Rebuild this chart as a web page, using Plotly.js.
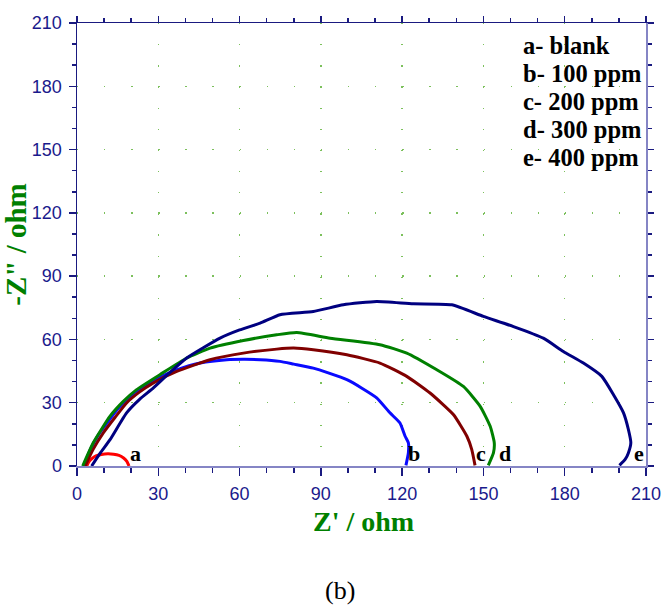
<!DOCTYPE html>
<html>
<head>
<meta charset="utf-8">
<script src="https://cdn.plot.ly/plotly-3.0.1.min.js"></script>
<style>html,body{margin:0;padding:0;background:#fff;}#chart{width:661px;height:605px;}</style>
</head>
<body>
<div id="chart"></div>
<script>
// ---- data (Z' , -Z'' in ohm) ----
const aX = [3.6, 4.3, 5.5, 7, 9, 11.4, 13.5, 15.5, 17.2, 18.4, 19.2];
const aY = [0, 1.8, 3.5, 4.8, 5.5, 5.8, 5.6, 5.0, 3.8, 2.2, 0];

const bX = [2.5, 5, 8, 12, 15, 18.3, 22, 27, 32, 36.8, 45.4, 55.3, 62, 67.6, 74.9, 80, 87.2, 93, 99.6, 105, 110.6, 115.5, 119.2, 121.1, 122.3, 122.3, 121.4];
const bY = [0, 8, 15, 22, 27, 31.5, 35.5, 39.5, 43, 45.6, 48.8, 50.4, 50.6, 50.4, 49.6, 48.3, 46.4, 44, 40.9, 37, 32.3, 25.2, 20.4, 14.1, 11, 6.2, 0.3];

const cX = [3, 6, 9.7, 14, 18.3, 23, 28.2, 36.8, 49.1, 61.4, 73.7, 80, 87.2, 99.6, 111.8, 121.7, 130.3, 138.9, 143.9, 145.7, 146.9];
const cY = [0, 8, 15.7, 23, 29.9, 35, 39.4, 44.8, 50.4, 53.5, 55.4, 55.9, 55.1, 52.7, 48.8, 42.5, 34.6, 24.4, 14.1, 7.8, 0.3];

const dX = [2.1, 6, 12.2, 17, 22, 30.6, 40.5, 49.1, 61.4, 73.7, 81.1, 93.4, 111.8, 121.7, 132.8, 142.6, 148.8, 152.5, 154, 153.7, 151.8];
const dY = [0, 11, 23.6, 30.5, 36.2, 43.3, 51.2, 55.9, 59.5, 62.2, 63.3, 60.6, 57.5, 53.5, 45.6, 37.7, 28.3, 18.8, 11, 6.2, 0.3];

const eX = [5.4, 8.5, 12.2, 18.3, 23, 28.2, 34, 40.5, 52.8, 60, 67.6, 74.9, 87.2, 98.3, 110.6, 124.1, 138.3, 150, 161.1, 172.1, 179.5, 186.9, 193.7, 198, 201.7, 203.5, 204.4, 203.5, 202.3, 200.2];
const eY = [0, 6, 12.5, 25.2, 31.5, 37, 44, 51.2, 60.6, 64.5, 67.7, 71.7, 73.2, 76.4, 78, 76.9, 76.4, 70.9, 66.1, 60.6, 54.3, 48.8, 42.5, 33.8, 25.2, 17.3, 11, 6.2, 3.1, 0.3];

const curveLetters = ['a', 'b', 'c', 'd', 'e'];
const letterX = [21.6, 124.3, 149.2, 158, 207.3];
const legendLabels = ['a- blank', 'b- 100 ppm', 'c- 200 ppm', 'd- 300 ppm', 'e- 400 ppm'];
const curveColors = ['#ff0000', '#0a0aff', '#800000', '#008000', '#000080'];
const xTitle = "Z' / ohm";
const yTitle = '-Z" / ohm';
const panelLabel = '(b)';
// ---------------------------------

const series = [[aX, aY], [bX, bY], [cX, cY], [dX, dY], [eX, eY]];
const traces = series.map((s, i) => ({
  x: s[0], y: s[1], type: 'scatter', mode: 'lines',
  line: {color: curveColors[i], width: 3, shape: 'spline', smoothing: 0.5},
  showlegend: false, hoverinfo: 'none'
}));
traces.push({x: [null], y: [null], xaxis: 'x2', yaxis: 'y2', showlegend: false, hoverinfo: 'none'});

const tickFont = {family: 'Liberation Sans, Arial, sans-serif', size: 18, color: '#1a1a8c'};
const serifBold = 'Liberation Serif, Times New Roman, serif';
const navy = '#1a1a80';
const lav = '#8585c5';
const gridCol = '#7cc05c';

const annotations = [];
curveLetters.forEach((t, i) => annotations.push({
  x: letterX[i], y: 0, xref: 'x', yref: 'y', text: '<b>' + t + '</b>',
  showarrow: false, xanchor: 'center', yanchor: 'bottom', yshift: -2,
  font: {family: serifBold, size: 22, color: '#000'}
}));
legendLabels.forEach((t, i) => annotations.push({
  x: 0.780, y: (466.5 - (45 + i * 28.2)) / 444, xref: 'paper', yref: 'paper',
  text: '<b>' + t + '</b>', showarrow: false, xanchor: 'left', yanchor: 'middle',
  font: {family: serifBold, size: 24.5, color: '#000'}
}));
annotations.push({
  x: (363 - 77) / 569, y: (466.5 - 522) / 444, xref: 'paper', yref: 'paper',
  text: '<b>' + xTitle + '</b>', showarrow: false, xanchor: 'center', yanchor: 'middle',
  font: {family: serifBold, size: 28, color: '#008000'}
});
annotations.push({
  x: (340 - 77) / 569, y: (466.5 - 591) / 444, xref: 'paper', yref: 'paper',
  text: panelLabel, showarrow: false, xanchor: 'center', yanchor: 'middle',
  font: {family: 'Liberation Serif, Times New Roman, serif', size: 26, color: '#000'}
});

const layout = {
  width: 661, height: 605,
  margin: {l: 77, r: 15, t: 22.5, b: 138.5, pad: 0},
  paper_bgcolor: '#fff', plot_bgcolor: '#fff',
  xaxis: {
    range: [0, 210], dtick: 30, tick0: 0, showgrid: true, gridcolor: gridCol, gridwidth: 1.3,
    griddash: '1.3px,19.84px', zeroline: false,
    showline: true, linecolor: lav, linewidth: 2,
    ticks: 'outside', ticklen: 8, tickwidth: 1.5, tickcolor: navy,
    minor: {dtick: 10, ticks: 'outside', ticklen: 5, tickwidth: 1.5, tickcolor: navy, showgrid: false},
    tickfont: tickFont, ticklabelstandoff: 2, ticklabeloverflow: 'allow',
    fixedrange: true
  },
  xaxis2: {
    overlaying: 'x', side: 'top', range: [0, 210], dtick: 30, tick0: 0, showgrid: false, zeroline: false,
    showline: true, linecolor: navy, linewidth: 1.5,
    ticks: 'outside', ticklen: 6, tickwidth: 1.5, tickcolor: navy,
    minor: {dtick: 10, ticks: 'outside', ticklen: 4, tickwidth: 1.5, tickcolor: navy, showgrid: false},
    showticklabels: false, fixedrange: true
  },
  yaxis: {
    range: [0, 210], dtick: 30, tick0: 0, showgrid: true, gridcolor: gridCol, gridwidth: 1.3,
    griddash: '1.3px,25.8px', zeroline: false,
    showline: true, linecolor: navy, linewidth: 1.5,
    ticks: 'outside', ticklen: 7, tickwidth: 1.5, tickcolor: navy,
    minor: {dtick: 10, ticks: 'outside', ticklen: 4, tickwidth: 1.5, tickcolor: navy, showgrid: false},
    tickfont: tickFont, ticklabelstandoff: 3, ticklabeloverflow: 'allow',
    title: {text: '<b>' + yTitle + '</b>', font: {family: serifBold, size: 29, color: '#008000'}, standoff: 3},
    fixedrange: true
  },
  yaxis2: {
    overlaying: 'y', side: 'right', range: [0, 210], dtick: 30, tick0: 0, showgrid: false, zeroline: false,
    showline: true, linecolor: lav, linewidth: 1.5,
    ticks: 'outside', ticklen: 6, tickwidth: 1.5, tickcolor: navy,
    minor: {dtick: 10, ticks: 'outside', ticklen: 4, tickwidth: 1.5, tickcolor: navy, showgrid: false},
    showticklabels: false, fixedrange: true
  },
  annotations: annotations,
  showlegend: false
};

Plotly.newPlot('chart', traces, layout, {displayModeBar: false, staticPlot: true});
</script>
</body>
</html>
